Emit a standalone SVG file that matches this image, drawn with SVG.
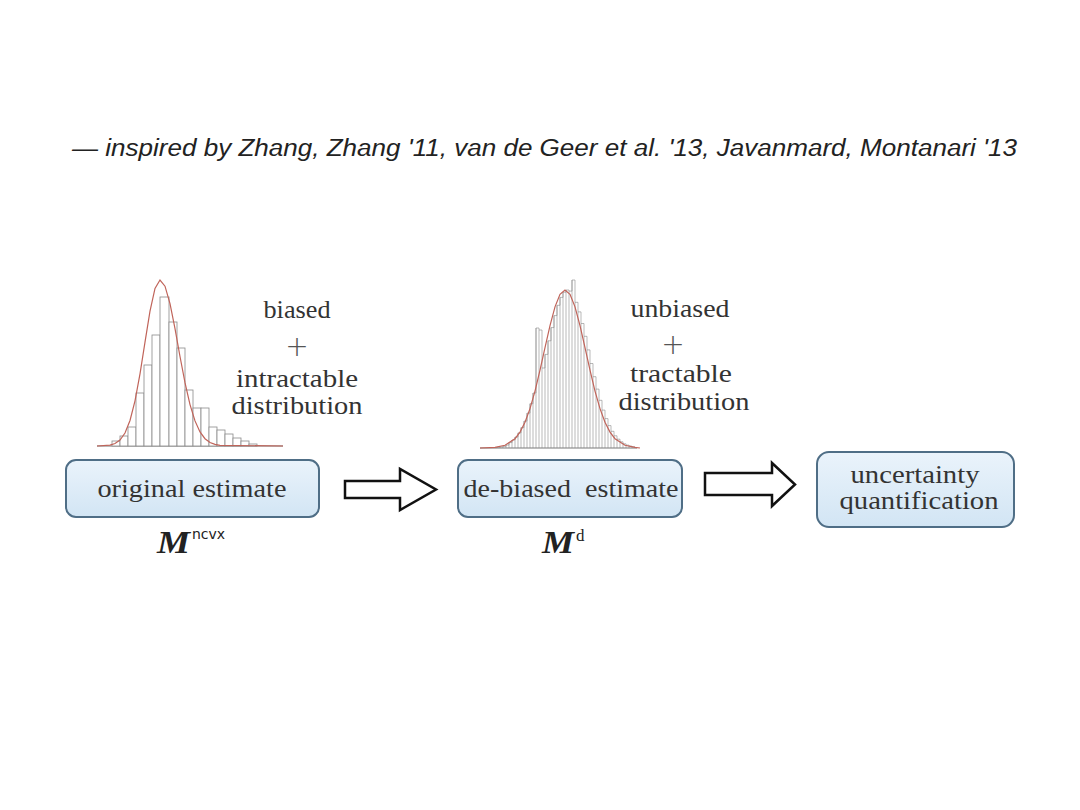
<svg xmlns="http://www.w3.org/2000/svg" width="1080" height="810" viewBox="0 0 1080 810">
<defs>
<linearGradient id="boxfill" x1="0" y1="0" x2="0" y2="1">
<stop offset="0" stop-color="#eaf3fb"/>
<stop offset="1" stop-color="#d2e5f4"/>
</linearGradient>
<style>
.box{fill:url(#boxfill);stroke:#4f6e86;stroke-width:2}
.lbl{font-family:"Liberation Serif","DejaVu Serif",serif;font-size:25px;fill:#333;text-anchor:middle}
.plus{font-family:"DejaVu Sans","Liberation Sans",sans-serif;font-weight:200;font-size:28px;fill:#555;text-anchor:middle}
.bar{fill:#fff;stroke:#8a8a8a;stroke-width:0.8}
.bar2{fill:none;stroke:#8a8a8a;stroke-width:0.6}
.curve{fill:none;stroke:#c0645a;stroke-width:1.2}
.base{stroke:#777;stroke-width:1}
.arrow{fill:#fff;stroke:#111;stroke-width:2.5;stroke-linejoin:miter}
.math{font-family:"Liberation Serif","DejaVu Serif",serif;font-weight:bold;font-style:italic;font-size:32px;fill:#222}
</style>
</defs>
<rect width="1080" height="810" fill="#fff"/>
<text x="72" y="156" font-family="'Liberation Sans','DejaVu Sans',sans-serif" font-style="italic" font-size="23" fill="#222" textLength="945" lengthAdjust="spacingAndGlyphs">— inspired by Zhang, Zhang '11, van de Geer et al. '13, Javanmard, Montanari '13</text>

<g id="hist1">
<line class="base" x1="97" y1="446" x2="283" y2="446"/>
<rect class="bar" x="112" y="441" width="8" height="5"/>
<rect class="bar" x="120" y="436" width="8" height="10"/>
<rect class="bar" x="128" y="427" width="8" height="19"/>
<rect class="bar" x="136" y="393" width="8" height="53"/>
<rect class="bar" x="144" y="365" width="8" height="81"/>
<rect class="bar" x="152" y="335" width="8" height="111"/>
<rect class="bar" x="160" y="297" width="9" height="149"/>
<rect class="bar" x="169" y="322" width="8" height="124"/>
<rect class="bar" x="177" y="348" width="8" height="98"/>
<rect class="bar" x="185" y="390" width="8" height="56"/>
<rect class="bar" x="193" y="408" width="8" height="38"/>
<rect class="bar" x="201" y="408" width="8" height="38"/>
<rect class="bar" x="209" y="427" width="8" height="19"/>
<rect class="bar" x="217" y="430" width="8" height="16"/>
<rect class="bar" x="225" y="434" width="8" height="12"/>
<rect class="bar" x="233" y="438" width="8" height="8"/>
<rect class="bar" x="241" y="441" width="8" height="5"/>
<rect class="bar" x="249" y="444" width="8" height="2"/>
<polyline class="curve" points="97,446 110,445.1 115,443.5 120,440.1 125,433 130,420.5 135,400.8 140,373.8 145,342.1 150,311.2 155,288.4 160,280 165,286.2 170,303.7 175,328.7 180,356.5 185,382.7 190,404.6 195,420.9 200,431.9 205,438.7 210,442.5 215,444.4 220,445.4 283,446"/>
</g>

<g id="label1">
<text class="lbl" x="297" y="318" textLength="67" lengthAdjust="spacingAndGlyphs">biased</text>
<text class="plus" x="297" y="356">+</text>
<text class="lbl" x="297" y="387" textLength="122" lengthAdjust="spacingAndGlyphs">intractable</text>
<text class="lbl" x="297" y="414" textLength="131" lengthAdjust="spacingAndGlyphs">distribution</text>
</g>

<g id="hist2">
<line class="base" x1="480" y1="448" x2="637" y2="448"/>
<path class="bar2" d="M494,448V447.6H497V447.3H500V447H503V446.4H506V445.1H509V442.6H512V440H515V437H518V432.9H521V427.6H524V421.1H527V413.1H530V403.7H533V393H536V328H539V330H542V368H545V354.4H548V340.8H551V327.6H554V315.6H557V305.3H560V297.4H563V292.2H566V290H569V291.1H572V280H575V302.3H578V311.9H581V323.5H584V336.3H587V349.9H590V363.5H593V376.7H596V389.1H599V400.3H602V410.1H605V418.6H608V425.6H611V431.3H614V435.8H617V439.2H620V441.8H623V443.8H626V445.1H629V446.1H632V446.8H635V448"/>
<path class="bar2" d="M497,448V447.3M500,448V447M503,448V446.4M506,448V445.1M509,448V442.6M512,448V440M515,448V437M518,448V432.9M521,448V427.6M524,448V421.1M527,448V413.1M530,448V403.7M533,448V393M536,448V328M539,448V330M542,448V368M545,448V354.4M548,448V340.8M551,448V327.6M554,448V315.6M557,448V305.3M560,448V297.4M563,448V292.2M566,448V290M569,448V291.1M572,448V280M575,448V302.3M578,448V311.9M581,448V323.5M584,448V336.3M587,448V349.9M590,448V363.5M593,448V376.7M596,448V389.1M599,448V400.3M602,448V410.1M605,448V418.6M608,448V425.6M611,448V431.3M614,448V435.8M617,448V439.2M620,448V441.8M623,448V443.8M626,448V445.1M629,448V446.1M632,448V446.8"/>
<polyline class="curve" points="480,448 495,447.4 505,445.3 515,438.7 520,432.1 525,422.2 530,408.6 535,391.1 540,370.2 545,347.6 550,325.6 555,306.9 560,294.4 565,290 570,294.4 575,306.9 580,325.6 585,347.6 590,370.2 595,391.1 600,408.6 605,422.2 610,432.1 615,438.7 625,445.3 635,447.4 640,448"/>
</g>

<g id="label2">
<text class="lbl" x="680" y="317" textLength="99" lengthAdjust="spacingAndGlyphs">unbiased</text>
<text class="plus" x="673" y="354">+</text>
<text class="lbl" x="681" y="382" textLength="102" lengthAdjust="spacingAndGlyphs">tractable</text>
<text class="lbl" x="684" y="410" textLength="131" lengthAdjust="spacingAndGlyphs">distribution</text>
</g>

<g id="node-original">
<rect class="box" x="66" y="460" width="253" height="57" rx="10"/>
<text class="lbl" x="192" y="497" textLength="189" lengthAdjust="spacingAndGlyphs">original estimate</text>
</g>
<g id="math-ncvx">
<text class="math" x="157" y="553" textLength="33" lengthAdjust="spacingAndGlyphs">M</text>
<text x="192" y="539" font-family="'DejaVu Sans','Liberation Sans',sans-serif" font-size="14" fill="#222">ncvx</text>
</g>

<g id="node-debiased">
<rect class="box" x="458" y="460" width="224" height="57" rx="10"/>
<text class="lbl" x="571" y="497" textLength="215" lengthAdjust="spacingAndGlyphs" xml:space="preserve">de-biased  estimate</text>
</g>
<g id="math-d">
<text class="math" x="542" y="553" textLength="32" lengthAdjust="spacingAndGlyphs">M</text>
<text x="576" y="541" font-family="'Liberation Serif','DejaVu Serif',serif" font-size="17" fill="#222">d</text>
</g>

<g id="node-uq">
<rect class="box" x="817" y="452" width="197" height="75" rx="12"/>
<text class="lbl" x="915" y="483" textLength="129" lengthAdjust="spacingAndGlyphs">uncertainty</text>
<text class="lbl" x="919" y="509" textLength="159" lengthAdjust="spacingAndGlyphs">quantification</text>
</g>

<g id="connectors">
<path class="arrow" d="M345,481 H400 V469 L436,489.5 L400,510 V498 H345 Z"/>
<path class="arrow" d="M705,473 H772 V463 L795,484.5 L772,506 V495 H705 Z"/>
</g>
</svg>
